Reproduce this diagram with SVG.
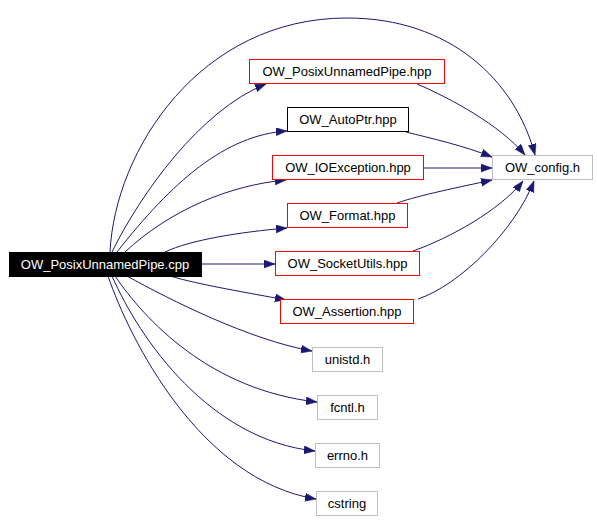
<svg xmlns="http://www.w3.org/2000/svg" width="597" height="521" viewBox="0 0 597 521">
<style>
  .e { fill: none; stroke: #191970; stroke-width: 1; marker-end: url(#ah); }
  .box { fill: #ffffff; stroke-width: 1; }
  .red { stroke: #ff0000; }
  .blk { stroke: #000000; }
  .gry { stroke: #bfbfbf; }
  text { font-family: "Liberation Sans", Arial, sans-serif; font-size: 13px; fill: #000000; text-anchor: middle; }
</style>
<defs>
  <marker id="ah" markerUnits="userSpaceOnUse" markerWidth="12" markerHeight="9" refX="11" refY="4" orient="auto">
    <path d="M0,0 L11,4 L0,8 z" fill="#191970" stroke="#191970" stroke-width="0.5"/>
  </marker>
</defs>
<rect width="597" height="521" fill="#ffffff"/>
<g id="connectors">
  <path class="e" d="M110,252 C115,150 200,18 347,18 C450,18 515,80 535,155"/>
  <path class="e" d="M112,252 C140,195 200,110 266,84"/>
  <path class="e" d="M117,252 C172,182 225,135 287,131"/>
  <path class="e" d="M125,252 C170,210 230,185 286,180"/>
  <path class="e" d="M165,252 C190,240 240,232 287,228"/>
  <path class="e" d="M201,264 L275,264"/>
  <path class="e" d="M170,276 C200,285 250,293 286,300"/>
  <path class="e" d="M127,276 C170,300 250,340 312,351"/>
  <path class="e" d="M115,276 C145,320 210,390 317,402"/>
  <path class="e" d="M112,276 C140,340 210,440 315,451"/>
  <path class="e" d="M108,276 C130,340 200,480 316,499"/>
  <path class="e" d="M417,84 C450,98 500,125 525,155"/>
  <path class="e" d="M406,132 C430,138 465,146 492,157"/>
  <path class="e" d="M423,168 L492,168"/>
  <path class="e" d="M397,203 C420,195 460,187 492,180"/>
  <path class="e" d="M413,251 C450,238 500,210 523,181"/>
  <path class="e" d="M418,299 C460,285 515,230 534,181"/>
</g>
<g id="main">
  <rect x="9.5" y="252.5" width="192" height="24" fill="#000000" stroke="#000000"/>
  <text x="105" y="269" style="fill:#ffffff">OW_PosixUnnamedPipe.cpp</text>
</g>
<g id="pup_hpp">
  <rect class="box" x="249.5" y="59.5" width="195" height="24" stroke="#ff0000"/>
  <text x="347" y="76">OW_PosixUnnamedPipe.hpp</text>
</g>
<g id="autoptr">
  <rect class="box" x="287.5" y="107.5" width="121" height="24" stroke="#000000"/>
  <text x="348" y="124">OW_AutoPtr.hpp</text>
</g>
<g id="ioexception">
  <rect class="box" x="272.5" y="155.5" width="151" height="24" stroke="#ff0000"/>
  <text x="348" y="172">OW_IOException.hpp</text>
</g>
<g id="format">
  <rect class="box" x="287.5" y="203.5" width="120" height="24" stroke="#ff0000"/>
  <text x="347.5" y="220">OW_Format.hpp</text>
</g>
<g id="socketutils">
  <rect class="box" x="275.5" y="251.5" width="144" height="24" stroke="#ff0000"/>
  <text x="347.5" y="268">OW_SocketUtils.hpp</text>
</g>
<g id="assertion">
  <rect class="box" x="280.5" y="299.5" width="133" height="24" stroke="#ff0000"/>
  <text x="347" y="316">OW_Assertion.hpp</text>
</g>
<g id="config">
  <rect class="box" x="492.5" y="155.5" width="100" height="24" stroke="#bfbfbf"/>
  <text x="542.5" y="172">OW_config.h</text>
</g>
<g id="unistd">
  <rect class="box" x="312.5" y="347.5" width="70" height="24" stroke="#bfbfbf"/>
  <text x="347.5" y="364">unistd.h</text>
</g>
<g id="fcntl">
  <rect class="box" x="317.5" y="395.5" width="60" height="24" stroke="#bfbfbf"/>
  <text x="347.5" y="412">fcntl.h</text>
</g>
<g id="errno">
  <rect class="box" x="315.5" y="443.5" width="64" height="24" stroke="#bfbfbf"/>
  <text x="347.5" y="460">errno.h</text>
</g>
<g id="cstring">
  <rect class="box" x="316.5" y="491.5" width="61" height="24" stroke="#bfbfbf"/>
  <text x="347" y="508">cstring</text>
</g>
</svg>
